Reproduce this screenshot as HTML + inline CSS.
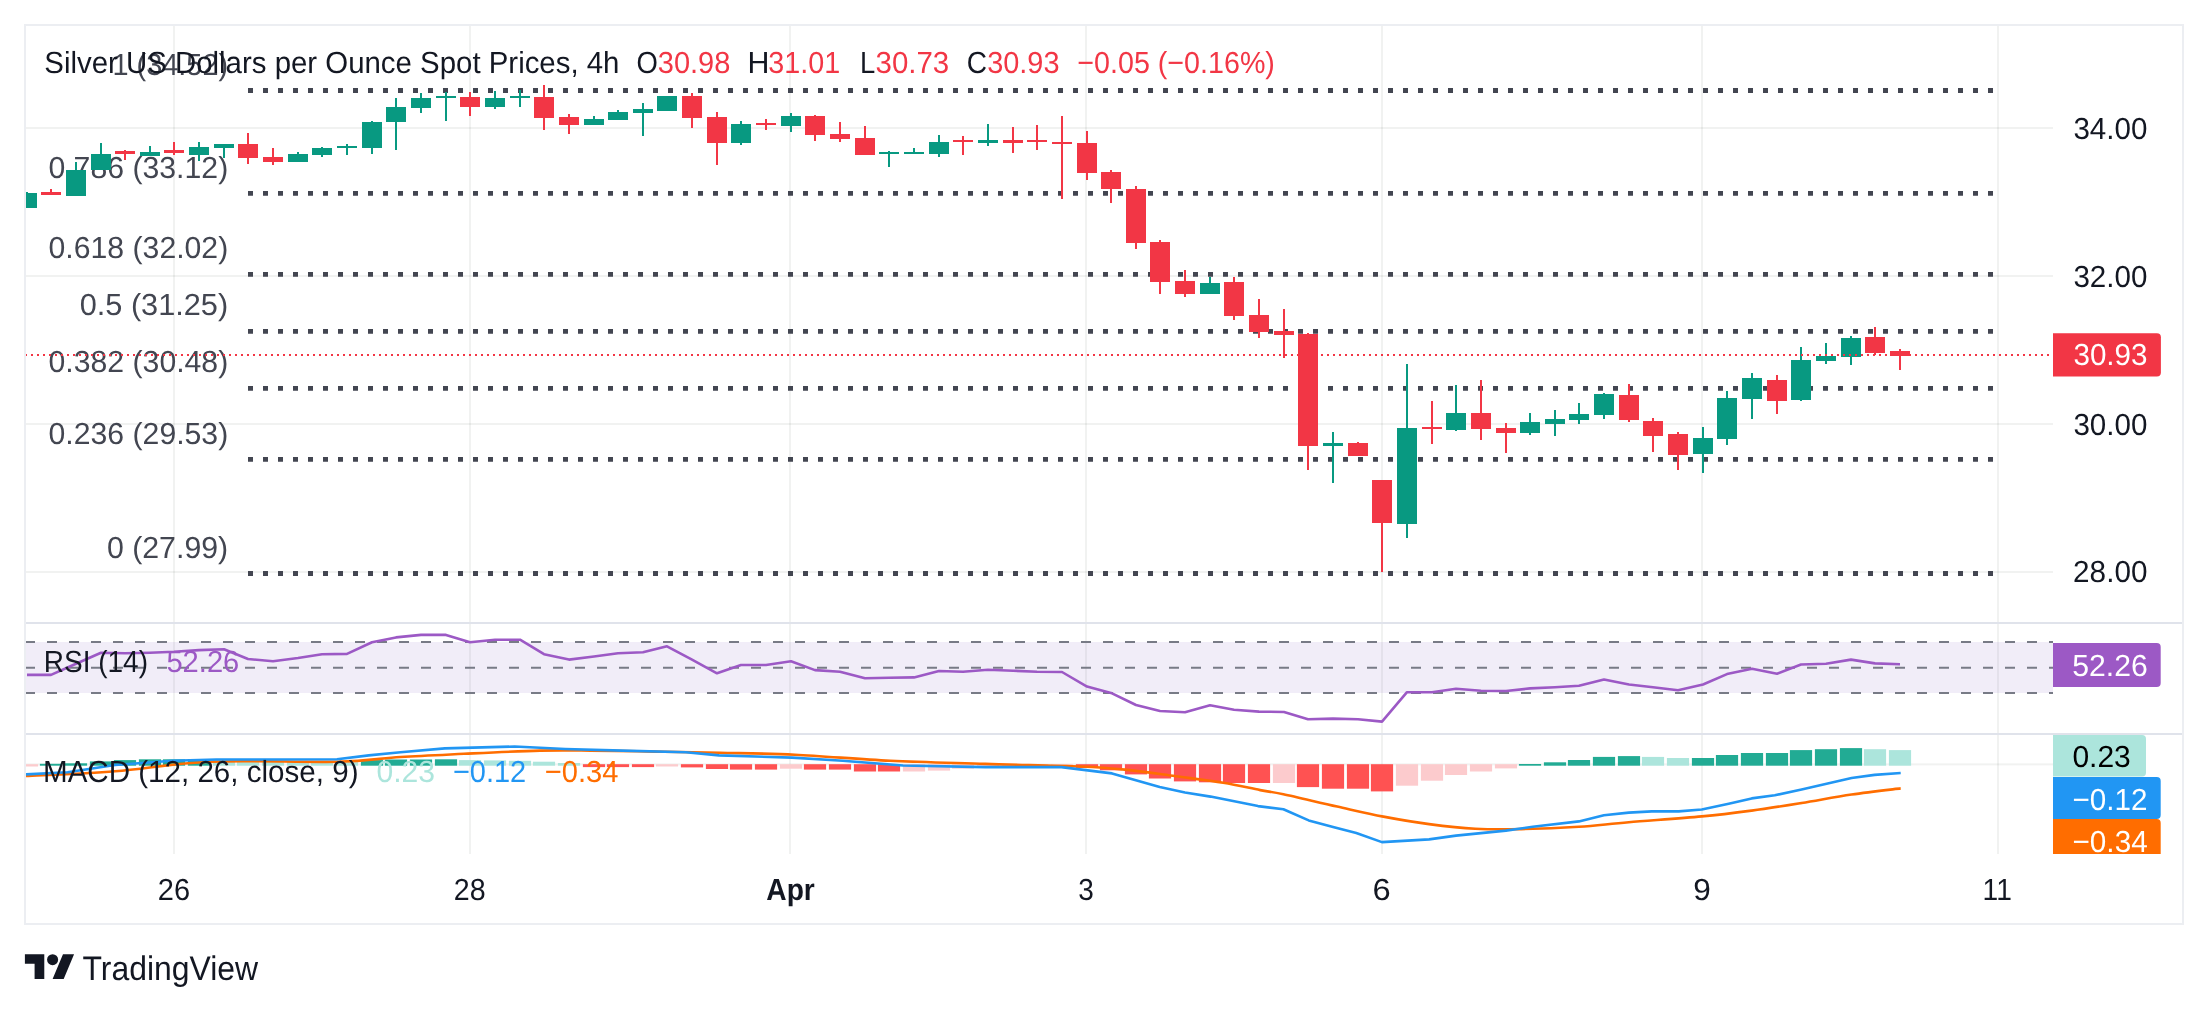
<!DOCTYPE html><html><head><meta charset="utf-8"><style>html,body{margin:0;padding:0;background:#fff;width:2208px;height:1012px;overflow:hidden}svg text{font-family:"Liberation Sans",sans-serif}</style></head><body><svg width="2208" height="1012" viewBox="0 0 2208 1012" style="position:absolute;left:0;top:0;will-change:transform;text-rendering:geometricPrecision;font-family:'Liberation Sans',sans-serif">
<rect x="0" y="0" width="2208" height="1012" fill="#ffffff"/>
<defs><clipPath id="cmain"><rect x="26" y="26" width="2027" height="596"/></clipPath><clipPath id="crsi"><rect x="26" y="624" width="2027" height="109"/></clipPath><clipPath id="cmacd"><rect x="26" y="735" width="2027" height="119"/></clipPath></defs>
<rect x="173" y="26" width="2" height="596" fill="rgba(40,60,50,0.065)"/>
<rect x="173" y="624" width="2" height="109" fill="rgba(40,60,50,0.065)"/>
<rect x="173" y="735" width="2" height="119" fill="rgba(40,60,50,0.065)"/>
<rect x="469" y="26" width="2" height="596" fill="rgba(40,60,50,0.065)"/>
<rect x="469" y="624" width="2" height="109" fill="rgba(40,60,50,0.065)"/>
<rect x="469" y="735" width="2" height="119" fill="rgba(40,60,50,0.065)"/>
<rect x="789" y="26" width="2" height="596" fill="rgba(40,60,50,0.065)"/>
<rect x="789" y="624" width="2" height="109" fill="rgba(40,60,50,0.065)"/>
<rect x="789" y="735" width="2" height="119" fill="rgba(40,60,50,0.065)"/>
<rect x="1085" y="26" width="2" height="596" fill="rgba(40,60,50,0.065)"/>
<rect x="1085" y="624" width="2" height="109" fill="rgba(40,60,50,0.065)"/>
<rect x="1085" y="735" width="2" height="119" fill="rgba(40,60,50,0.065)"/>
<rect x="1381" y="26" width="2" height="596" fill="rgba(40,60,50,0.065)"/>
<rect x="1381" y="624" width="2" height="109" fill="rgba(40,60,50,0.065)"/>
<rect x="1381" y="735" width="2" height="119" fill="rgba(40,60,50,0.065)"/>
<rect x="1701" y="26" width="2" height="596" fill="rgba(40,60,50,0.065)"/>
<rect x="1701" y="624" width="2" height="109" fill="rgba(40,60,50,0.065)"/>
<rect x="1701" y="735" width="2" height="119" fill="rgba(40,60,50,0.065)"/>
<rect x="1997" y="26" width="2" height="596" fill="rgba(40,60,50,0.065)"/>
<rect x="1997" y="624" width="2" height="109" fill="rgba(40,60,50,0.065)"/>
<rect x="1997" y="735" width="2" height="119" fill="rgba(40,60,50,0.065)"/>
<rect x="26" y="127" width="2027" height="2" fill="rgba(40,60,50,0.065)"/>
<rect x="26" y="275" width="2027" height="2" fill="rgba(40,60,50,0.065)"/>
<rect x="26" y="423" width="2027" height="2" fill="rgba(40,60,50,0.065)"/>
<rect x="26" y="571" width="2027" height="2" fill="rgba(40,60,50,0.065)"/>
<rect x="26" y="763.4" width="2027" height="2" fill="rgba(40,60,50,0.065)"/>
<text x="112.43" y="74.60" font-size="30.5" fill="#434651" textLength="115.68" lengthAdjust="spacingAndGlyphs">1 (34.52)</text>
<text x="48.39" y="178.00" font-size="30.5" fill="#434651" textLength="179.84" lengthAdjust="spacingAndGlyphs">0.786 (33.12)</text>
<text x="48.59" y="258.30" font-size="30.5" fill="#434651" textLength="179.64" lengthAdjust="spacingAndGlyphs">0.618 (32.02)</text>
<text x="79.67" y="314.80" font-size="30.5" fill="#434651" textLength="148.52" lengthAdjust="spacingAndGlyphs">0.5 (31.25)</text>
<text x="48.59" y="372.40" font-size="30.5" fill="#434651" textLength="179.64" lengthAdjust="spacingAndGlyphs">0.382 (30.48)</text>
<text x="48.59" y="443.50" font-size="30.5" fill="#434651" textLength="179.64" lengthAdjust="spacingAndGlyphs">0.236 (29.53)</text>
<text x="106.89" y="557.70" font-size="30.5" fill="#434651" textLength="121.31" lengthAdjust="spacingAndGlyphs">0 (27.99)</text>
<line x1="248" y1="90.5" x2="1996" y2="90.5" stroke="#434651" stroke-width="4.8" stroke-dasharray="5 10"/>
<line x1="248" y1="193.3" x2="1996" y2="193.3" stroke="#434651" stroke-width="4.8" stroke-dasharray="5 10"/>
<line x1="248" y1="274.4" x2="1996" y2="274.4" stroke="#434651" stroke-width="4.8" stroke-dasharray="5 10"/>
<line x1="248" y1="331.4" x2="1996" y2="331.4" stroke="#434651" stroke-width="4.8" stroke-dasharray="5 10"/>
<line x1="248" y1="388.4" x2="1996" y2="388.4" stroke="#434651" stroke-width="4.8" stroke-dasharray="5 10"/>
<line x1="248" y1="459.4" x2="1996" y2="459.4" stroke="#434651" stroke-width="4.8" stroke-dasharray="5 10"/>
<line x1="248" y1="573.5" x2="1996" y2="573.5" stroke="#434651" stroke-width="4.8" stroke-dasharray="5 10"/>
<g clip-path="url(#cmain)">
<rect x="26" y="192" width="2" height="16" fill="#089981"/>
<rect x="17" y="193" width="20" height="15" fill="#089981"/>
<rect x="50" y="189" width="2" height="6" fill="#f23645"/>
<rect x="41" y="192" width="20" height="3" fill="#f23645"/>
<rect x="75" y="162" width="2" height="34" fill="#089981"/>
<rect x="66" y="170" width="20" height="26" fill="#089981"/>
<rect x="100" y="143" width="2" height="27" fill="#089981"/>
<rect x="91" y="154" width="20" height="16" fill="#089981"/>
<rect x="124" y="150" width="2" height="10" fill="#f23645"/>
<rect x="115" y="151" width="20" height="3" fill="#f23645"/>
<rect x="149" y="146" width="2" height="10" fill="#089981"/>
<rect x="140" y="152" width="20" height="4" fill="#089981"/>
<rect x="173" y="142" width="2" height="13" fill="#f23645"/>
<rect x="164" y="150" width="20" height="3" fill="#f23645"/>
<rect x="198" y="142" width="2" height="19" fill="#089981"/>
<rect x="189" y="147" width="20" height="8" fill="#089981"/>
<rect x="223" y="144" width="2" height="14" fill="#089981"/>
<rect x="214" y="144" width="20" height="4" fill="#089981"/>
<rect x="247" y="133" width="2" height="31" fill="#f23645"/>
<rect x="238" y="144" width="20" height="14" fill="#f23645"/>
<rect x="272" y="148" width="2" height="17" fill="#f23645"/>
<rect x="263" y="157" width="20" height="5" fill="#f23645"/>
<rect x="297" y="152" width="2" height="10" fill="#089981"/>
<rect x="288" y="154" width="20" height="8" fill="#089981"/>
<rect x="321" y="147" width="2" height="10" fill="#089981"/>
<rect x="312" y="148" width="20" height="7" fill="#089981"/>
<rect x="346" y="144" width="2" height="11" fill="#089981"/>
<rect x="337" y="146" width="20" height="2" fill="#089981"/>
<rect x="371" y="121" width="2" height="33" fill="#089981"/>
<rect x="362" y="122" width="20" height="26" fill="#089981"/>
<rect x="395" y="98" width="2" height="52" fill="#089981"/>
<rect x="386" y="107" width="20" height="15" fill="#089981"/>
<rect x="420" y="93" width="2" height="20" fill="#089981"/>
<rect x="411" y="98" width="20" height="10" fill="#089981"/>
<rect x="445" y="92" width="2" height="29" fill="#089981"/>
<rect x="436" y="96" width="20" height="2" fill="#089981"/>
<rect x="469" y="92" width="2" height="24" fill="#f23645"/>
<rect x="460" y="97" width="20" height="10" fill="#f23645"/>
<rect x="494" y="91" width="2" height="18" fill="#089981"/>
<rect x="485" y="98" width="20" height="9" fill="#089981"/>
<rect x="519" y="90" width="2" height="17" fill="#089981"/>
<rect x="510" y="96" width="20" height="2" fill="#089981"/>
<rect x="543" y="85" width="2" height="45" fill="#f23645"/>
<rect x="534" y="97" width="20" height="21" fill="#f23645"/>
<rect x="568" y="114" width="2" height="20" fill="#f23645"/>
<rect x="559" y="117" width="20" height="8" fill="#f23645"/>
<rect x="593" y="116" width="2" height="9" fill="#089981"/>
<rect x="584" y="119" width="20" height="6" fill="#089981"/>
<rect x="617" y="110" width="2" height="10" fill="#089981"/>
<rect x="608" y="112" width="20" height="8" fill="#089981"/>
<rect x="642" y="103" width="2" height="33" fill="#089981"/>
<rect x="633" y="109" width="20" height="4" fill="#089981"/>
<rect x="666" y="96" width="2" height="15" fill="#089981"/>
<rect x="657" y="96" width="20" height="15" fill="#089981"/>
<rect x="691" y="93" width="2" height="35" fill="#f23645"/>
<rect x="682" y="96" width="20" height="22" fill="#f23645"/>
<rect x="716" y="112" width="2" height="53" fill="#f23645"/>
<rect x="707" y="117" width="20" height="26" fill="#f23645"/>
<rect x="740" y="121" width="2" height="24" fill="#089981"/>
<rect x="731" y="124" width="20" height="19" fill="#089981"/>
<rect x="765" y="119" width="2" height="11" fill="#f23645"/>
<rect x="756" y="123" width="20" height="2" fill="#f23645"/>
<rect x="790" y="113" width="2" height="19" fill="#089981"/>
<rect x="781" y="116" width="20" height="10" fill="#089981"/>
<rect x="814" y="115" width="2" height="26" fill="#f23645"/>
<rect x="805" y="116" width="20" height="19" fill="#f23645"/>
<rect x="839" y="122" width="2" height="20" fill="#f23645"/>
<rect x="830" y="134" width="20" height="5" fill="#f23645"/>
<rect x="864" y="126" width="2" height="29" fill="#f23645"/>
<rect x="855" y="138" width="20" height="17" fill="#f23645"/>
<rect x="888" y="151" width="2" height="16" fill="#089981"/>
<rect x="879" y="152" width="20" height="2" fill="#089981"/>
<rect x="913" y="148" width="2" height="6" fill="#089981"/>
<rect x="904" y="152" width="20" height="2" fill="#089981"/>
<rect x="938" y="135" width="2" height="22" fill="#089981"/>
<rect x="929" y="142" width="20" height="12" fill="#089981"/>
<rect x="962" y="136" width="2" height="19" fill="#f23645"/>
<rect x="953" y="140" width="20" height="2" fill="#f23645"/>
<rect x="987" y="124" width="2" height="22" fill="#089981"/>
<rect x="978" y="140" width="20" height="3" fill="#089981"/>
<rect x="1012" y="127" width="2" height="26" fill="#f23645"/>
<rect x="1003" y="140" width="20" height="3" fill="#f23645"/>
<rect x="1036" y="125" width="2" height="25" fill="#f23645"/>
<rect x="1027" y="140" width="20" height="2" fill="#f23645"/>
<rect x="1061" y="116" width="2" height="83" fill="#f23645"/>
<rect x="1052" y="142" width="20" height="2" fill="#f23645"/>
<rect x="1086" y="131" width="2" height="49" fill="#f23645"/>
<rect x="1077" y="143" width="20" height="30" fill="#f23645"/>
<rect x="1110" y="170" width="2" height="33" fill="#f23645"/>
<rect x="1101" y="172" width="20" height="17" fill="#f23645"/>
<rect x="1135" y="186" width="2" height="63" fill="#f23645"/>
<rect x="1126" y="189" width="20" height="54" fill="#f23645"/>
<rect x="1159" y="240" width="2" height="54" fill="#f23645"/>
<rect x="1150" y="242" width="20" height="40" fill="#f23645"/>
<rect x="1184" y="270" width="2" height="27" fill="#f23645"/>
<rect x="1175" y="281" width="20" height="13" fill="#f23645"/>
<rect x="1209" y="277" width="2" height="17" fill="#089981"/>
<rect x="1200" y="283" width="20" height="11" fill="#089981"/>
<rect x="1233" y="277" width="2" height="43" fill="#f23645"/>
<rect x="1224" y="282" width="20" height="34" fill="#f23645"/>
<rect x="1258" y="299" width="2" height="39" fill="#f23645"/>
<rect x="1249" y="315" width="20" height="17" fill="#f23645"/>
<rect x="1283" y="309" width="2" height="49" fill="#f23645"/>
<rect x="1274" y="331" width="20" height="4" fill="#f23645"/>
<rect x="1307" y="333" width="2" height="137" fill="#f23645"/>
<rect x="1298" y="334" width="20" height="112" fill="#f23645"/>
<rect x="1332" y="432" width="2" height="51" fill="#089981"/>
<rect x="1323" y="443" width="20" height="3" fill="#089981"/>
<rect x="1357" y="442" width="2" height="14" fill="#f23645"/>
<rect x="1348" y="443" width="20" height="13" fill="#f23645"/>
<rect x="1381" y="480" width="2" height="92" fill="#f23645"/>
<rect x="1372" y="480" width="20" height="43" fill="#f23645"/>
<rect x="1406" y="364" width="2" height="174" fill="#089981"/>
<rect x="1397" y="428" width="20" height="96" fill="#089981"/>
<rect x="1431" y="401" width="2" height="43" fill="#f23645"/>
<rect x="1422" y="427" width="20" height="2" fill="#f23645"/>
<rect x="1455" y="385" width="2" height="46" fill="#089981"/>
<rect x="1446" y="413" width="20" height="17" fill="#089981"/>
<rect x="1480" y="380" width="2" height="60" fill="#f23645"/>
<rect x="1471" y="413" width="20" height="16" fill="#f23645"/>
<rect x="1505" y="423" width="2" height="30" fill="#f23645"/>
<rect x="1496" y="428" width="20" height="5" fill="#f23645"/>
<rect x="1529" y="413" width="2" height="22" fill="#089981"/>
<rect x="1520" y="422" width="20" height="11" fill="#089981"/>
<rect x="1554" y="410" width="2" height="26" fill="#089981"/>
<rect x="1545" y="419" width="20" height="5" fill="#089981"/>
<rect x="1578" y="403" width="2" height="21" fill="#089981"/>
<rect x="1569" y="414" width="20" height="6" fill="#089981"/>
<rect x="1603" y="393" width="2" height="26" fill="#089981"/>
<rect x="1594" y="394" width="20" height="21" fill="#089981"/>
<rect x="1628" y="384" width="2" height="38" fill="#f23645"/>
<rect x="1619" y="395" width="20" height="25" fill="#f23645"/>
<rect x="1652" y="418" width="2" height="34" fill="#f23645"/>
<rect x="1643" y="421" width="20" height="15" fill="#f23645"/>
<rect x="1677" y="432" width="2" height="38" fill="#f23645"/>
<rect x="1668" y="434" width="20" height="21" fill="#f23645"/>
<rect x="1702" y="427" width="2" height="46" fill="#089981"/>
<rect x="1693" y="438" width="20" height="16" fill="#089981"/>
<rect x="1726" y="391" width="2" height="54" fill="#089981"/>
<rect x="1717" y="398" width="20" height="41" fill="#089981"/>
<rect x="1751" y="373" width="2" height="46" fill="#089981"/>
<rect x="1742" y="378" width="20" height="21" fill="#089981"/>
<rect x="1776" y="375" width="2" height="39" fill="#f23645"/>
<rect x="1767" y="380" width="20" height="21" fill="#f23645"/>
<rect x="1800" y="347" width="2" height="54" fill="#089981"/>
<rect x="1791" y="360" width="20" height="40" fill="#089981"/>
<rect x="1825" y="343" width="2" height="21" fill="#089981"/>
<rect x="1816" y="356" width="20" height="5" fill="#089981"/>
<rect x="1850" y="336" width="2" height="29" fill="#089981"/>
<rect x="1841" y="338" width="20" height="19" fill="#089981"/>
<rect x="1874" y="327" width="2" height="28" fill="#f23645"/>
<rect x="1865" y="337" width="20" height="16" fill="#f23645"/>
<rect x="1899" y="349" width="2" height="21" fill="#f23645"/>
<rect x="1890" y="351" width="20" height="5" fill="#f23645"/>
</g>
<line x1="25" y1="355" x2="2050" y2="355" stroke="#f23645" stroke-width="2" stroke-dasharray="2 4"/>
<text x="44.28" y="72.50" font-size="30.5" fill="#131722" textLength="575.20" lengthAdjust="spacingAndGlyphs">Silver US Dollars per Ounce Spot Prices, 4h</text>
<text x="636.46" y="72.50" font-size="30.5" fill="#131722" textLength="21.35" lengthAdjust="spacingAndGlyphs">O</text>
<text x="657.74" y="72.50" font-size="30.5" fill="#f23645" textLength="72.70" lengthAdjust="spacingAndGlyphs">30.98</text>
<text x="747.57" y="72.50" font-size="30.5" fill="#131722" textLength="21.92" lengthAdjust="spacingAndGlyphs">H</text>
<text x="768.25" y="72.50" font-size="30.5" fill="#f23645" textLength="71.91" lengthAdjust="spacingAndGlyphs">31.01</text>
<text x="860.11" y="72.50" font-size="30.5" fill="#131722" textLength="15.25" lengthAdjust="spacingAndGlyphs">L</text>
<text x="875.52" y="72.50" font-size="30.5" fill="#f23645" textLength="73.73" lengthAdjust="spacingAndGlyphs">30.73</text>
<text x="966.80" y="72.50" font-size="30.5" fill="#131722" textLength="20.24" lengthAdjust="spacingAndGlyphs">C</text>
<text x="987.14" y="72.50" font-size="30.5" fill="#f23645" textLength="72.39" lengthAdjust="spacingAndGlyphs">30.93</text>
<text x="1077.37" y="72.50" font-size="30.5" fill="#f23645" textLength="197.56" lengthAdjust="spacingAndGlyphs">−0.05 (−0.16%)</text>
<text x="2073.42" y="138.70" font-size="30.5" fill="#131722" textLength="73.99" lengthAdjust="spacingAndGlyphs">34.00</text>
<text x="2073.42" y="286.50" font-size="30.5" fill="#131722" textLength="73.99" lengthAdjust="spacingAndGlyphs">32.00</text>
<text x="2073.42" y="434.80" font-size="30.5" fill="#131722" textLength="73.99" lengthAdjust="spacingAndGlyphs">30.00</text>
<text x="2073.12" y="582.40" font-size="30.5" fill="#131722" textLength="74.30" lengthAdjust="spacingAndGlyphs">28.00</text>
<path d="M2053 333.2 H2156.9 Q2160.9 333.2 2160.9 337.2 V372.4 Q2160.9 376.4 2156.9 376.4 H2053 Z" fill="#f23645"/>
<text x="2073.41" y="365.20" font-size="30.5" fill="#ffffff" textLength="74.14" lengthAdjust="spacingAndGlyphs">30.93</text>
<rect x="26" y="642" width="2027" height="51" fill="rgba(126,87,194,0.11)"/>
<line x1="25" y1="641.9" x2="2053" y2="641.9" stroke="#787b86" stroke-width="2" stroke-dasharray="10 12"/>
<line x1="25" y1="667.8" x2="2053" y2="667.8" stroke="#787b86" stroke-width="2" stroke-dasharray="10 12"/>
<line x1="25" y1="692.9" x2="2053" y2="692.9" stroke="#787b86" stroke-width="2" stroke-dasharray="10 12"/>
<g clip-path="url(#crsi)"><polyline points="27.0,674.9 51.0,674.9 76.0,663.8 101.0,652.7 125.0,653.3 150.0,652.7 174.0,651.7 199.0,650.1 224.0,649.2 248.0,659 273.0,661.2 298.0,658 322.0,654.2 347.0,653.9 372.0,642.2 396.0,637.4 421.0,634.9 446.0,634.9 470.0,642.2 495.0,639.7 520.0,639.7 544.0,654.2 569.0,659.6 594.0,656.5 618.0,653.3 643.0,652.3 667.0,646.3 692.0,659.6 717.0,673.3 741.0,665 766.0,665 791.0,661.2 815.0,670.1 840.0,671.7 865.0,678.3 889.0,677.7 914.0,677.4 939.0,671 963.0,671.7 988.0,669.8 1013.0,670.7 1037.0,671.7 1062.0,672 1087.0,686.6 1111.0,692.9 1136.0,705 1160.0,711 1185.0,712.3 1210.0,705.3 1234.0,709.7 1259.0,711.6 1284.0,712 1308.0,719.2 1333.0,718.6 1358.0,719.2 1382.0,721.6 1407.0,692.2 1432.0,692.2 1456.0,688.7 1481.0,690.7 1506.0,691 1530.0,688.4 1555.0,687.2 1579.0,685.7 1604.0,679.5 1629.0,684.5 1653.0,687.2 1678.0,690.3 1703.0,684.5 1727.0,674.1 1752.0,668.8 1777.0,673.8 1801.0,664.5 1826.0,663.8 1851.0,659.6 1875.0,663.4 1900.0,664.2" fill="none" stroke="#9c59c5" stroke-width="2.6" stroke-linejoin="round"/></g>
<text x="43.76" y="672.10" font-size="30.5" fill="#131722" textLength="104.21" lengthAdjust="spacingAndGlyphs">RSI (14)</text>
<text x="166.43" y="672.10" font-size="30.5" fill="#9c59c5" textLength="72.90" lengthAdjust="spacingAndGlyphs">52.26</text>
<path d="M2053 643 H2156.7 Q2160.7 643 2160.7 647 V682.9 Q2160.7 686.9 2156.7 686.9 H2053 Z" fill="#9c59c5"/>
<text x="2072.29" y="675.50" font-size="30.5" fill="#ffffff" textLength="75.49" lengthAdjust="spacingAndGlyphs">52.26</text>
<g clip-path="url(#cmacd)">
<rect x="15.90" y="764.20" width="22.2" height="2.30" fill="#fccbcd"/>
<rect x="39.90" y="763.80" width="22.2" height="1.90" fill="#22ab94"/>
<rect x="64.90" y="763.30" width="22.2" height="2.40" fill="#22ab94"/>
<rect x="89.90" y="761.40" width="22.2" height="4.30" fill="#22ab94"/>
<rect x="113.90" y="760.10" width="22.2" height="5.60" fill="#22ab94"/>
<rect x="138.90" y="759.30" width="22.2" height="6.40" fill="#22ab94"/>
<rect x="162.90" y="759.30" width="22.2" height="6.40" fill="#22ab94"/>
<rect x="187.90" y="759.00" width="22.2" height="6.70" fill="#22ab94"/>
<rect x="212.90" y="760.40" width="22.2" height="5.30" fill="#ace5dc"/>
<rect x="236.90" y="761.00" width="22.2" height="4.70" fill="#ace5dc"/>
<rect x="261.90" y="761.20" width="22.2" height="4.50" fill="#ace5dc"/>
<rect x="286.90" y="761.40" width="22.2" height="4.30" fill="#ace5dc"/>
<rect x="310.90" y="761.80" width="22.2" height="3.90" fill="#ace5dc"/>
<rect x="335.90" y="762.20" width="22.2" height="3.50" fill="#ace5dc"/>
<rect x="360.90" y="760.10" width="22.2" height="5.60" fill="#22ab94"/>
<rect x="384.90" y="759.50" width="22.2" height="6.20" fill="#22ab94"/>
<rect x="409.90" y="759.50" width="22.2" height="6.20" fill="#22ab94"/>
<rect x="434.90" y="759.30" width="22.2" height="6.40" fill="#22ab94"/>
<rect x="458.90" y="760.10" width="22.2" height="5.60" fill="#ace5dc"/>
<rect x="483.90" y="760.40" width="22.2" height="5.30" fill="#ace5dc"/>
<rect x="508.90" y="760.80" width="22.2" height="4.90" fill="#ace5dc"/>
<rect x="532.90" y="761.70" width="22.2" height="4.00" fill="#ace5dc"/>
<rect x="557.90" y="763.00" width="22.2" height="2.70" fill="#ace5dc"/>
<rect x="582.90" y="764.20" width="22.2" height="2.90" fill="#ff5252"/>
<rect x="606.90" y="764.20" width="22.2" height="2.90" fill="#ff5252"/>
<rect x="631.90" y="764.20" width="22.2" height="2.90" fill="#ff5252"/>
<rect x="655.90" y="764.20" width="22.2" height="2.30" fill="#fccbcd"/>
<rect x="680.90" y="764.20" width="22.2" height="3.20" fill="#ff5252"/>
<rect x="705.90" y="764.20" width="22.2" height="4.80" fill="#ff5252"/>
<rect x="729.90" y="764.20" width="22.2" height="5.40" fill="#ff5252"/>
<rect x="754.90" y="764.20" width="22.2" height="5.40" fill="#ff5252"/>
<rect x="779.90" y="764.20" width="22.2" height="4.50" fill="#fccbcd"/>
<rect x="803.90" y="764.20" width="22.2" height="5.40" fill="#ff5252"/>
<rect x="828.90" y="764.20" width="22.2" height="5.40" fill="#ff5252"/>
<rect x="853.90" y="764.20" width="22.2" height="7.30" fill="#ff5252"/>
<rect x="877.90" y="764.20" width="22.2" height="7.30" fill="#ff5252"/>
<rect x="902.90" y="764.20" width="22.2" height="7.30" fill="#fccbcd"/>
<rect x="927.90" y="764.20" width="22.2" height="6.40" fill="#fccbcd"/>
<rect x="951.90" y="764.20" width="22.2" height="4.50" fill="#fccbcd"/>
<rect x="976.90" y="764.20" width="22.2" height="3.20" fill="#fccbcd"/>
<rect x="1001.90" y="764.20" width="22.2" height="2.60" fill="#fccbcd"/>
<rect x="1025.90" y="764.20" width="22.2" height="2.30" fill="#fccbcd"/>
<rect x="1050.90" y="764.20" width="22.2" height="2.00" fill="#fccbcd"/>
<rect x="1075.90" y="764.20" width="22.2" height="3.80" fill="#ff5252"/>
<rect x="1099.90" y="764.20" width="22.2" height="6.10" fill="#ff5252"/>
<rect x="1124.90" y="764.20" width="22.2" height="10.20" fill="#ff5252"/>
<rect x="1148.90" y="764.20" width="22.2" height="14.30" fill="#ff5252"/>
<rect x="1173.90" y="764.20" width="22.2" height="17.20" fill="#ff5252"/>
<rect x="1198.90" y="764.20" width="22.2" height="18.10" fill="#ff5252"/>
<rect x="1222.90" y="764.20" width="22.2" height="18.80" fill="#ff5252"/>
<rect x="1247.90" y="764.20" width="22.2" height="18.80" fill="#ff5252"/>
<rect x="1272.90" y="764.20" width="22.2" height="18.80" fill="#fccbcd"/>
<rect x="1296.90" y="764.20" width="22.2" height="22.90" fill="#ff5252"/>
<rect x="1321.90" y="764.20" width="22.2" height="24.50" fill="#ff5252"/>
<rect x="1346.90" y="764.20" width="22.2" height="24.50" fill="#ff5252"/>
<rect x="1370.90" y="764.20" width="22.2" height="27.20" fill="#ff5252"/>
<rect x="1395.90" y="764.20" width="22.2" height="21.50" fill="#fccbcd"/>
<rect x="1420.90" y="764.20" width="22.2" height="16.50" fill="#fccbcd"/>
<rect x="1444.90" y="764.20" width="22.2" height="10.80" fill="#fccbcd"/>
<rect x="1469.90" y="764.20" width="22.2" height="7.30" fill="#fccbcd"/>
<rect x="1494.90" y="764.20" width="22.2" height="4.20" fill="#fccbcd"/>
<rect x="1518.90" y="764.00" width="22.2" height="1.70" fill="#22ab94"/>
<rect x="1543.90" y="762.30" width="22.2" height="3.40" fill="#22ab94"/>
<rect x="1567.90" y="760.00" width="22.2" height="5.70" fill="#22ab94"/>
<rect x="1592.90" y="756.90" width="22.2" height="8.80" fill="#22ab94"/>
<rect x="1617.90" y="756.10" width="22.2" height="9.60" fill="#22ab94"/>
<rect x="1641.90" y="756.90" width="22.2" height="8.80" fill="#ace5dc"/>
<rect x="1666.90" y="758.00" width="22.2" height="7.70" fill="#ace5dc"/>
<rect x="1691.90" y="758.00" width="22.2" height="7.70" fill="#22ab94"/>
<rect x="1715.90" y="755.00" width="22.2" height="10.70" fill="#22ab94"/>
<rect x="1740.90" y="753.00" width="22.2" height="12.70" fill="#22ab94"/>
<rect x="1765.90" y="753.00" width="22.2" height="12.70" fill="#22ab94"/>
<rect x="1789.90" y="750.10" width="22.2" height="15.60" fill="#22ab94"/>
<rect x="1814.90" y="749.20" width="22.2" height="16.50" fill="#22ab94"/>
<rect x="1839.90" y="748.10" width="22.2" height="17.60" fill="#22ab94"/>
<rect x="1863.90" y="749.20" width="22.2" height="16.50" fill="#ace5dc"/>
<rect x="1888.90" y="750.10" width="22.2" height="15.60" fill="#ace5dc"/>
<path d="M25.7,776 C40.6,775.2 84.3,773.6 115,771.2 C145.7,768.8 173.0,763.3 210,761.7 C247.0,760.1 305.2,762.5 337,761.7 C368.8,760.9 379.4,758.3 400.5,757 C421.6,755.7 440.6,754.9 463.9,753.8 C487.1,752.7 518.9,751.1 540,750.6 C561.1,750.1 571.7,750.4 590.7,750.6 C609.7,750.8 632.5,751.2 654,751.6 C675.5,752.0 696.5,752.3 720,752.8 C743.5,753.3 766.6,753.4 795,754.7 C823.4,756.0 858.5,759.3 890.2,760.8 C921.9,762.3 953.7,762.9 985.4,763.9 C1017.1,764.9 1057.2,765.5 1080.5,766.5 C1103.8,767.5 1109.1,768.0 1124.9,769.6 C1140.8,771.2 1159.2,774.0 1175.6,776.2 C1192.0,778.4 1209.1,780.4 1223.2,782.7 C1237.3,785.0 1250.2,788.2 1260.2,790.1 C1270.2,792.0 1270.6,791.5 1283.4,794.3 C1296.2,797.0 1320.5,802.9 1337.2,806.6 C1353.9,810.3 1368.1,813.7 1383.4,816.6 C1398.7,819.5 1413.8,822.1 1429.1,824.1 C1444.4,826.1 1459.8,827.9 1475.2,828.7 C1490.6,829.5 1504.0,829.4 1521.3,829.1 C1538.6,828.8 1561.0,827.9 1578.9,826.8 C1596.8,825.6 1608.3,823.9 1628.8,822.2 C1649.3,820.5 1681.3,818.3 1701.8,816.4 C1722.3,814.5 1735.1,812.8 1751.7,810.6 C1768.3,808.4 1784.9,805.7 1801.6,803 C1818.2,800.3 1835.1,796.9 1851.6,794.5 C1868.1,792.1 1892.5,789.4 1900.7,788.4" fill="none" stroke="#ff6d00" stroke-width="2.6"/>
<polyline points="25.7,774.4 67.6,772.2 115,765 172,760.8 216.6,759.5 273.6,759.5 337,759.2 368.8,755.4 400.5,752.2 444.9,748.4 514.6,746.5 565.3,749 622.4,750.6 685.8,752.2 719,755.4 792,757.6 842.7,760.8 903,765.5 985.4,767.1 1061.4,767.1 1112,773.4 1159.7,787.1 1185,792.5 1210.5,796.6 1258,806.1 1283.4,809.3 1308.7,820.4 1334,827.3 1356.3,833 1381.9,842.1 1429.1,839.4 1456,835.6 1505.9,830.6 1532.8,826.8 1578.9,821.4 1603.9,815.3 1628.8,812.6 1651.9,811.4 1678.7,811.4 1701.8,809.5 1728.7,803.7 1751.7,798.4 1774.8,795.3 1801.6,789.5 1826.6,783.8 1851.6,778 1874.6,774.9 1900.7,773" fill="none" stroke="#2196f3" stroke-width="2.6" stroke-linejoin="round"/>
</g>
<text x="43.03" y="782.30" font-size="30.5" fill="#131722" textLength="315.46" lengthAdjust="spacingAndGlyphs">MACD (12, 26, close, 9)</text>
<text x="376.39" y="782.30" font-size="30.5" fill="#ace5dc" textLength="58.65" lengthAdjust="spacingAndGlyphs">0.23</text>
<text x="452.95" y="782.30" font-size="30.5" fill="#2196f3" textLength="73.31" lengthAdjust="spacingAndGlyphs">−0.12</text>
<text x="544.84" y="782.30" font-size="30.5" fill="#ff6d00" textLength="73.64" lengthAdjust="spacingAndGlyphs">−0.34</text>
<path d="M2053 734.9 H2142 Q2146 734.9 2146 738.9 V772.5 Q2146 776.5 2142 776.5 H2053 Z" fill="#ace5dc"/>
<text x="2072.40" y="767.00" font-size="30.5" fill="#000000" textLength="58.44" lengthAdjust="spacingAndGlyphs">0.23</text>
<path d="M2053 777.1 H2156.7 Q2160.7 777.1 2160.7 781.1 V814.9 Q2160.7 818.9 2156.7 818.9 H2053 Z" fill="#2196f3"/>
<text x="2072.52" y="809.90" font-size="30.5" fill="#ffffff" textLength="74.97" lengthAdjust="spacingAndGlyphs">−0.12</text>
<path d="M2053 818.9 H2156.7 Q2160.7 818.9 2160.7 822.9 V853.9 H2053 Z" fill="#ff6d00"/>
<clipPath id="cbox"><rect x="2053" y="818.9" width="110" height="35"/></clipPath>
<text x="2072.51" y="851.70" font-size="30.5" fill="#ffffff" textLength="75.19" lengthAdjust="spacingAndGlyphs" clip-path="url(#cbox)">−0.34</text>
<rect x="25" y="622" width="2158" height="2" fill="#e0e3eb"/>
<rect x="25" y="733" width="2158" height="2" fill="#e0e3eb"/>
<rect x="25" y="25" width="2158" height="899" fill="none" stroke="#eceef2" stroke-width="2"/>
<text x="157.85" y="900.10" font-size="30.5" fill="#131722" textLength="32.28" lengthAdjust="spacingAndGlyphs">26</text>
<text x="453.77" y="900.10" font-size="30.5" fill="#131722" textLength="31.84" lengthAdjust="spacingAndGlyphs">28</text>
<text x="1078.18" y="900.10" font-size="30.5" fill="#131722" textLength="15.57" lengthAdjust="spacingAndGlyphs">3</text>
<text x="1372.47" y="900.10" font-size="30.5" fill="#131722" textLength="18.18" lengthAdjust="spacingAndGlyphs">6</text>
<text x="1693.38" y="900.10" font-size="30.5" fill="#131722" textLength="17.58" lengthAdjust="spacingAndGlyphs">9</text>
<text x="1982.59" y="900.10" font-size="30.5" fill="#131722" textLength="29.27" lengthAdjust="spacingAndGlyphs">11</text>
<text x="766.30" y="900.10" font-size="30.5" font-weight="bold" fill="#131722" textLength="48.55" lengthAdjust="spacingAndGlyphs">Apr</text>
<g transform="translate(24.9,948.6) scale(1.385)" fill="#131722"><path d="M14 22H7V11H0V4h14v18zM28 22h-8l7.5-18h8L28 22z"/><circle cx="20" cy="8" r="4"/></g>
<text x="82.56" y="979.50" font-size="34" fill="#131722" textLength="175.58" lengthAdjust="spacingAndGlyphs">TradingView</text>
</svg></body></html>
